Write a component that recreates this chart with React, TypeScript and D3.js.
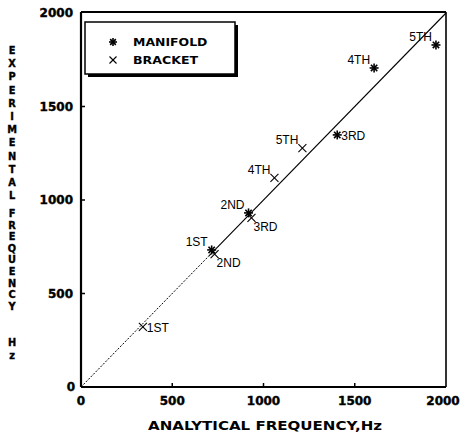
import React from "react";
import * as d3 from "d3";

const manifoldX = [716, 918, 1404, 1606, 1945];
const manifoldY = [733, 931, 1348, 1706, 1829];
const manifoldLabels = ["1ST", "2ND", "3RD", "4TH", "5TH"];
const manifoldLabelPos = ["ul", "ul", "r", "ul", "ul"];

const bracketX = [339, 732, 934, 1060, 1213];
const bracketY = [321, 711, 904, 1118, 1278];
const bracketLabels = ["1ST", "2ND", "3RD", "4TH", "5TH"];
const bracketLabelPos = ["r", "lr", "lr", "ul", "ul"];

const tickValues = [0, 500, 1000, 1500, 2000];
const yTitleWords = ["EXPERIMENTAL", "FREQUENCY", "Hz"];
const xTitle = "ANALYTICAL FREQUENCY,Hz";
const legendNames = ["MANIFOLD", "BRACKET"];

const W = 465, H = 436;
const x = d3.scaleLinear().domain([0, 2000]).range([81, 446]);
const y = d3.scaleLinear().domain([0, 2000]).range([387, 13]);

const Asterisk = ({ cx, cy, r = 4.5 }: { cx: number; cy: number; r?: number }) => {
  const lines = [0, 45, 90, 135].map((a) => {
    const rad = (a * Math.PI) / 180;
    return (
      <line key={a} x1={cx - r * Math.cos(rad)} y1={cy - r * Math.sin(rad)} x2={cx + r * Math.cos(rad)} y2={cy + r * Math.sin(rad)} stroke="#000" strokeWidth={1.6} />
    );
  });
  return <g>{lines}</g>;
};

const Cross = ({ cx, cy, r = 4 }: { cx: number; cy: number; r?: number }) => (
  <g>
    <line x1={cx - r} y1={cy - r} x2={cx + r} y2={cy + r} stroke="#000" strokeWidth={1.1} />
    <line x1={cx - r} y1={cy + r} x2={cx + r} y2={cy - r} stroke="#000" strokeWidth={1.1} />
  </g>
);

const labelFont = "'Liberation Sans', Arial, sans-serif";
const boldFont = "'DejaVu Sans', 'Liberation Sans', sans-serif";

function PointLabel({ px, py, text, pos }: { px: number; py: number; text: string; pos: string }) {
  let tx = px, ty = py, anchor: any = "start";
  if (pos === "ul") { tx = px - 4; ty = py - 4; anchor = "end"; }
  else if (pos === "lr") { tx = px + 2; ty = py + 13; anchor = "start"; }
  else if (pos === "r") { tx = px + 4; ty = py + 5; anchor = "start"; }
  return (
    <text x={tx} y={ty} textAnchor={anchor} fontFamily={labelFont} fontSize={12} fill="#000">{text}</text>
  );
}

export default function App() {
  const letterSteps = [13.2, 11.6, 13];
  const wordStarts = [50, 213, 342];
  return (
    <svg width={W} height={H} style={{ position: "absolute", left: 0, top: 0, background: "#fff" }}>
      <rect x={0} y={0} width={W} height={H} fill="#fff" />
      {/* frame */}
      <line x1={x(0)} y1={y(0)} x2={x(2000)} y2={y(0)} stroke="#000" strokeWidth={2.2} />
      <line x1={x(0)} y1={y(0)} x2={x(0)} y2={y(2000) - 1} stroke="#000" strokeWidth={2.2} />
      <line x1={x(0)} y1={y(2000) - 1} x2={x(2000)} y2={y(2000) - 1} stroke="#000" strokeWidth={2} />
      <line x1={x(2000)} y1={y(2000) - 1} x2={x(2000)} y2={y(0)} stroke="#000" strokeWidth={1.6} />
      {/* ticks */}
      {tickValues.slice(1, 4).map((v) => (
        <g key={"t" + v}>
          <line x1={x(v)} y1={y(0)} x2={x(v)} y2={y(0) - 4} stroke="#000" strokeWidth={1.5} />
          <line x1={x(0)} y1={y(v)} x2={x(0) + 4} y2={y(v)} stroke="#000" strokeWidth={1.5} />
        </g>
      ))}
      {/* tick labels */}
      {tickValues.map((v) => (
        <text key={"xl" + v} x={x(v) + (v === 2000 ? -3 : 0)} y={405} textAnchor="middle" fontFamily={boldFont} fontWeight="bold" fontSize={12} stroke="#000" strokeWidth={0.4} fill="#000">{v}</text>
      ))}
      {tickValues.map((v) => (
        <text key={"yl" + v} x={v === 0 ? 75 : 73} y={y(v) + 4} textAnchor="end" fontFamily={boldFont} fontWeight="bold" fontSize={12} stroke="#000" strokeWidth={0.4} fill="#000">{v}</text>
      ))}
      {/* diagonal */}
      <line x1={x(0)} y1={y(0)} x2={x(700)} y2={y(700)} stroke="#000" strokeWidth={1} strokeDasharray="2,1.5" />
      <line x1={x(700)} y1={y(700)} x2={x(2000)} y2={y(2000)} stroke="#000" strokeWidth={1.1} />
      {/* markers */}
      {manifoldX.map((v, i) => (
        <g key={"m" + i}>
          <Asterisk cx={x(v)} cy={y(manifoldY[i])} />
          <PointLabel px={x(v)} py={y(manifoldY[i])} text={manifoldLabels[i]} pos={manifoldLabelPos[i]} />
        </g>
      ))}
      {bracketX.map((v, i) => (
        <g key={"b" + i}>
          <Cross cx={x(v)} cy={y(bracketY[i])} />
          <PointLabel px={x(v)} py={y(bracketY[i])} text={bracketLabels[i]} pos={bracketLabelPos[i]} />
        </g>
      ))}
      {/* legend */}
      <rect x={88} y={25} width={150} height={52} fill="#000" />
      <rect x={85} y={22} width={150} height={52} fill="#fff" stroke="#000" strokeWidth={1.5} />
      <Asterisk cx={113} cy={42} r={4} />
      <Cross cx={113} cy={60} r={3.5} />
      {legendNames.map((n, i) => (
        <text key={n} x={133} y={46 + i * 18} fontFamily={boldFont} fontWeight="bold" fontSize={10} textLength={n.length * 9.3} lengthAdjust="spacingAndGlyphs" fill="#000">{n}</text>
      ))}
      {/* axis titles */}
      <text x={148} y={430} fontFamily={boldFont} fontWeight="bold" fontSize={12} textLength={234} lengthAdjust="spacingAndGlyphs" fill="#000">{xTitle}</text>
      {yTitleWords.map((w, wi) =>
        w.split("").map((c, ci) => (
          <text key={wi + "-" + ci} x={12} y={wordStarts[wi] + ci * letterSteps[wi] + 4} textAnchor="middle" fontFamily={boldFont} fontWeight="bold" fontSize={9.8} stroke="#000" strokeWidth={0.35} fill="#000">{c}</text>
        ))
      )}
    </svg>
  );
}
